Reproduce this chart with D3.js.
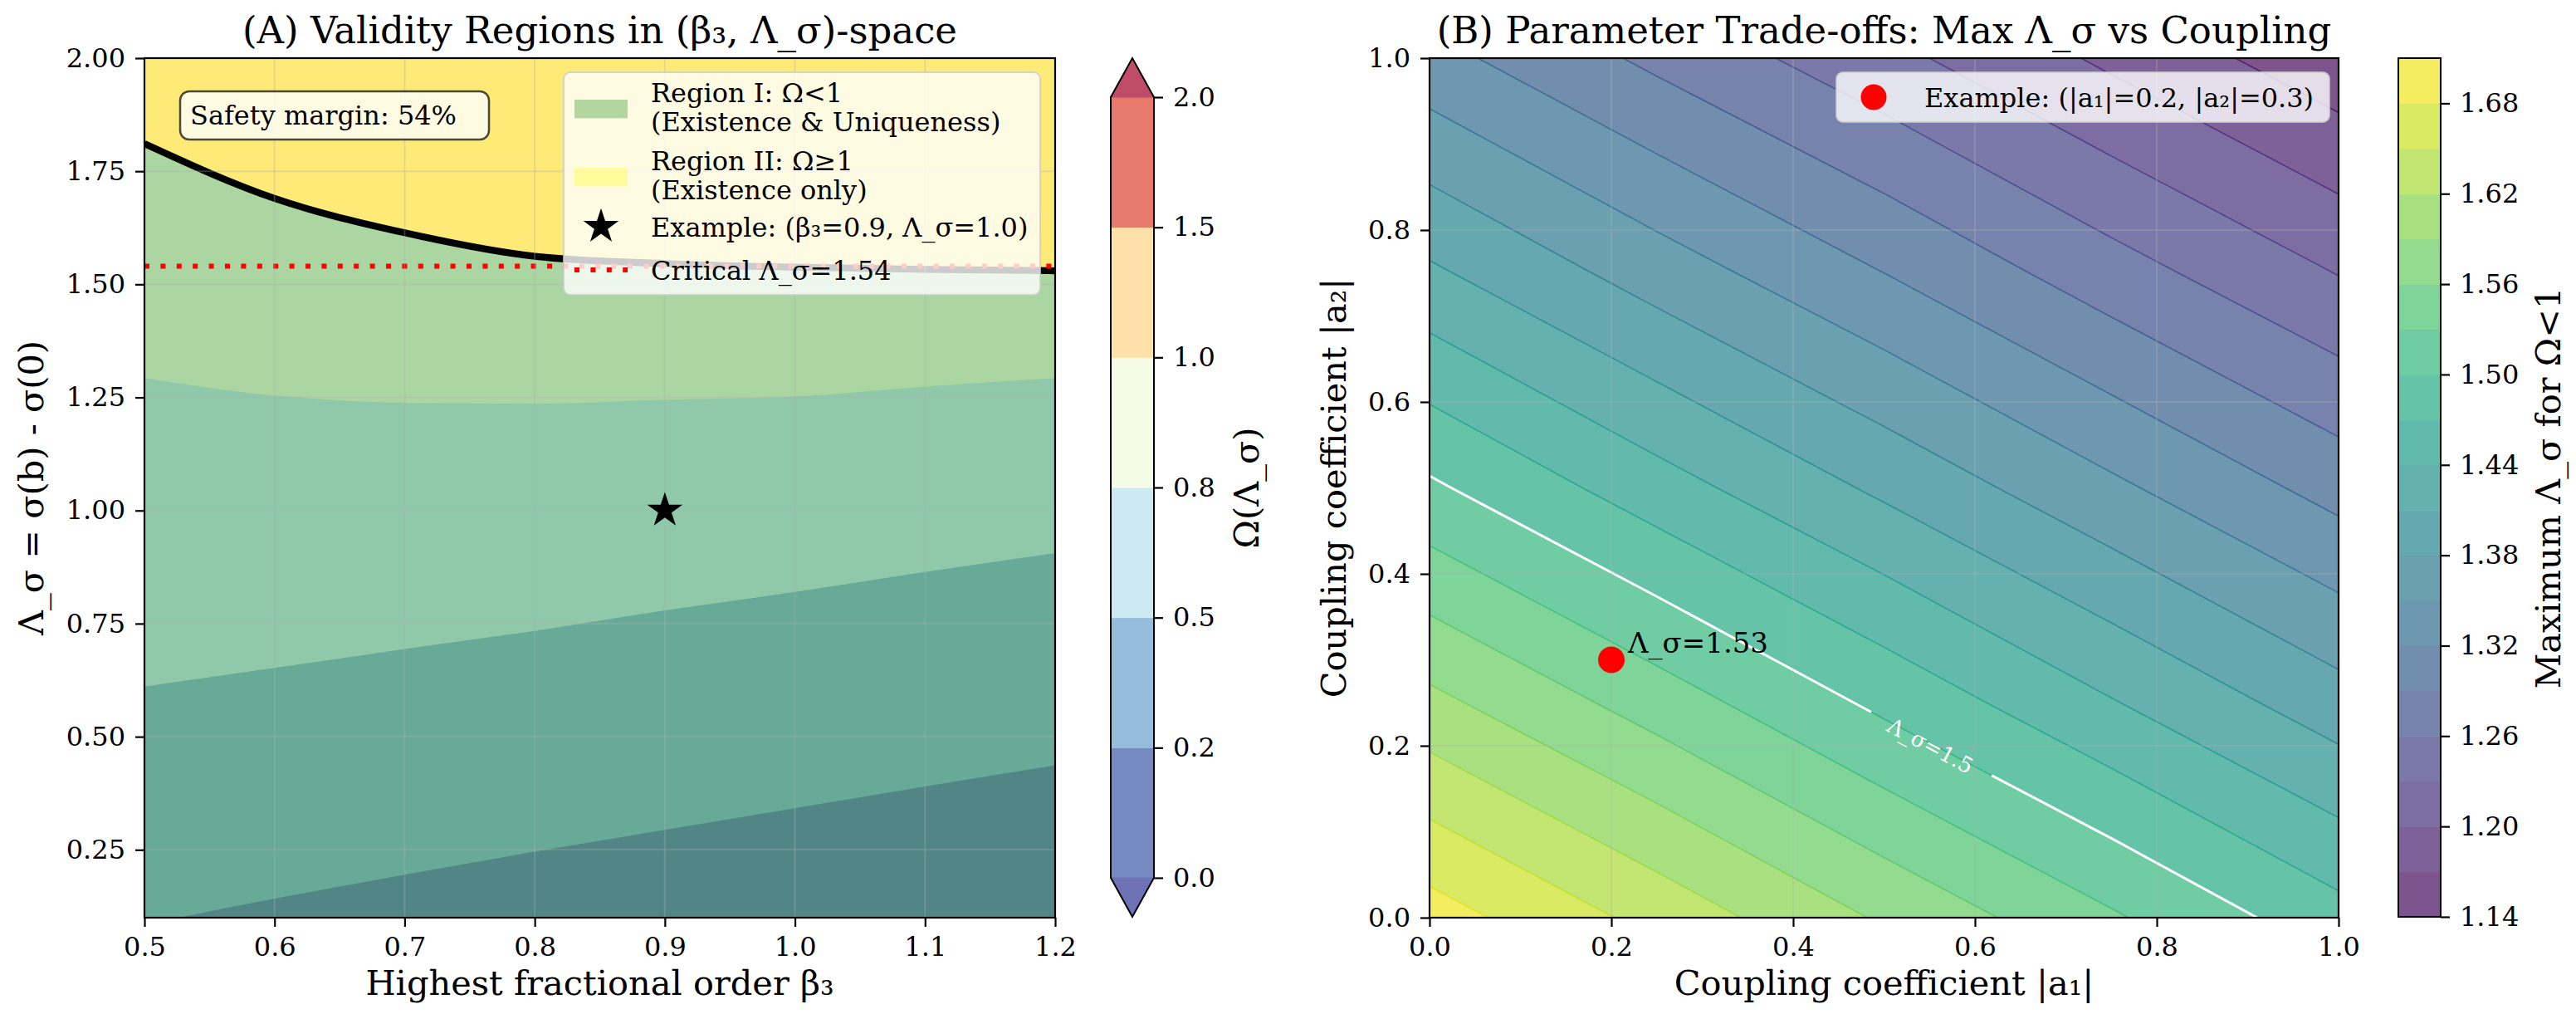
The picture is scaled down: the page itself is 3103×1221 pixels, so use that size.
<!DOCTYPE html>
<html>
<head>
<meta charset="utf-8">
<script src="https://cdn.jsdelivr.net/npm/d3@7"></script>
<style>
  body { margin: 0; background: #fff; }
  svg text { font-family: "DejaVu Serif", serif; fill: #000; }
</style>
</head>
<body>
<svg id="chart" width="3103" height="1221"></svg>
<script>
// ---------- data ----------
// panel A: Omega contour boundaries (Lambda_sigma value of each level) along beta3
const betaGrid = [0.5, 0.6, 0.7, 0.8, 0.9, 1.0, 1.1, 1.2];
const omega02Boundary = [0.085, 0.142, 0.195, 0.246, 0.294, 0.342, 0.390, 0.437];
const omega05Boundary = [0.611, 0.652, 0.694, 0.734, 0.779, 0.820, 0.864, 0.906];
const omega08Boundary = [1.293, 1.254, 1.238, 1.236, 1.245, 1.252, 1.274, 1.293];
const omega10Boundary = [1.811, 1.690, 1.614, 1.562, 1.546, 1.538, 1.533, 1.530];
const omegaLevels = [0, 0.2, 0.5, 0.8, 1.0, 1.5, 2.0];
const criticalLambda = 1.54;
const exampleA = { beta: 0.9, lambda: 1.0 };
const safetyMargin = 54;

const betaTicks = [0.5, 0.6, 0.7, 0.8, 0.9, 1.0, 1.1, 1.2];
const lambdaTicksA = [0.25, 0.5, 0.75, 1.0, 1.25, 1.5, 1.75, 2.0];

// panel B: max Lambda_sigma on a coarse (|a1|, |a2|) grid, rows = |a2|, cols = |a1|
const couplingGrid = [0, 0.25, 0.5, 0.75, 1.0];
const maxLambdaGrid = [
  [1.694, 1.640, 1.586, 1.534, 1.481],
  [1.598, 1.546, 1.493, 1.442, 1.393],
  [1.505, 1.453, 1.404, 1.356, 1.309],
  [1.415, 1.366, 1.320, 1.273, 1.229],
  [1.330, 1.283, 1.239, 1.194, 1.150]
];
const lambdaLevels = [1.14, 1.17, 1.20, 1.23, 1.26, 1.29, 1.32, 1.35, 1.38, 1.41,
                      1.44, 1.47, 1.50, 1.53, 1.56, 1.59, 1.62, 1.65, 1.68, 1.71];
const lambdaCbTicks = [1.14, 1.20, 1.26, 1.32, 1.38, 1.44, 1.50, 1.56, 1.62, 1.68];
const couplingTicks = [0, 0.2, 0.4, 0.6, 0.8, 1.0];
const highlightLevel = 1.5;
const highlightLabelAt = { a1: 0.551, a2: 0.2 };
const exampleB = { a1: 0.2, a2: 0.3, lambda: 1.53 };

// ---------- helpers ----------
const svg = d3.select("#chart");
const W = 3103, H = 1221;
const rdylbu = ["#a50026", "#d73027", "#f46d43", "#fdae61", "#fee090", "#ffffbf",
                "#e0f3f8", "#abd9e9", "#74add1", "#4575b4", "#313695"];
const rdylbuR = d3.scaleLinear().domain(d3.range(11).map(i => i / 10))
  .range(rdylbu.slice().reverse()).interpolate(d3.interpolateRgb).clamp(true);
const blend = (c, a) => d3.interpolateRgb("#ffffff", c)(a);
const f1 = d3.format(".1f"), f2 = d3.format(".2f");

function styleAxis(g) {
  g.select(".domain").remove();
  g.attr("font-family", "DejaVu Serif").attr("font-size", 32);
  g.selectAll(".tick line").attr("stroke", "#000").attr("stroke-width", 2.2);
  g.selectAll(".tick text").attr("fill", "#000");
}

const A = { left: 174, right: 1271, top: 70, bottom: 1105 };
const B = { left: 1722, right: 2817, top: 70, bottom: 1105 };
const titleSize = 45, labelSize = 41.5;

const defs = svg.append("defs");
defs.append("clipPath").attr("id", "clipA").append("rect")
  .attr("x", A.left).attr("y", A.top).attr("width", A.right - A.left).attr("height", A.bottom - A.top);
defs.append("clipPath").attr("id", "clipB").append("rect")
  .attr("x", B.left).attr("y", B.top).attr("width", B.right - B.left).attr("height", B.bottom - B.top);

// ================= PANEL A =================
const xA = d3.scaleLinear().domain([0.5, 1.2]).range([A.left, A.right]);
const yA = d3.scaleLinear().domain([0.1, 2.0]).range([A.bottom, A.top]);
const rowsA = betaGrid.map((b, i) => ({
  beta: b, b02: omega02Boundary[i], b05: omega05Boundary[i],
  b08: omega08Boundary[i], b10: omega10Boundary[i]
}));
const yTopA = yA.domain()[1], yBotA = yA.domain()[0];

// lower boundary of each filled level, stacked from the bottom up
const bandLower = [d => yBotA - 0.5, d => d.b02, d => d.b05, d => d.b08, d => d.b10];
const gA = svg.append("g").attr("clip-path", "url(#clipA)");
bandLower.forEach((lo, k) => {
  const mid = (omegaLevels[k] + omegaLevels[k + 1]) / 2;
  gA.append("path").datum(rowsA)
    .attr("fill", blend(rdylbuR(mid / 2), 0.7))
    .attr("d", d3.area().curve(d3.curveMonotoneX)
      .x(d => xA(d.beta)).y0(d => yA(lo(d))).y1(() => yA(yTopA + 0.5)));
});
// region overlays
gA.append("path").datum(rowsA).attr("fill", "green").attr("fill-opacity", 0.3)
  .attr("d", d3.area().curve(d3.curveMonotoneX)
    .x(d => xA(d.beta)).y0(() => yA(yBotA - 0.5)).y1(d => yA(d.b10)));
gA.append("path").datum(rowsA).attr("fill", "yellow").attr("fill-opacity", 0.3)
  .attr("d", d3.area().curve(d3.curveMonotoneX)
    .x(d => xA(d.beta)).y0(d => yA(d.b10)).y1(() => yA(yTopA + 0.5)));

// grid
const gridA = svg.append("g").attr("stroke", "#b0b0b0").attr("stroke-opacity", 0.3).attr("stroke-width", 2);
gridA.selectAll("line.v").data(betaTicks).join("line")
  .attr("x1", d => xA(d)).attr("x2", d => xA(d)).attr("y1", A.top).attr("y2", A.bottom);
gridA.selectAll("line.h").data(lambdaTicksA).join("line").attr("class", "h")
  .attr("y1", d => yA(d)).attr("y2", d => yA(d)).attr("x1", A.left).attr("x2", A.right);

// Omega = 1 contour
gA.append("path").datum(rowsA).attr("fill", "none").attr("stroke", "#000").attr("stroke-width", 8.3)
  .attr("d", d3.line().curve(d3.curveMonotoneX).x(d => xA(d.beta)).y(d => yA(d.b10)));
// critical line
gA.append("line").attr("x1", A.left).attr("x2", A.right)
  .attr("y1", yA(criticalLambda)).attr("y2", yA(criticalLambda))
  .attr("stroke", "red").attr("stroke-width", 6).attr("stroke-dasharray", "6,13.4");
// example star
const star = d3.symbol(d3.symbolStar).size(560);
svg.append("path").attr("d", star()).attr("fill", "#000")
  .attr("transform", `translate(${xA(exampleA.beta)},${yA(exampleA.lambda)})`);

// frame + axes
svg.append("rect").attr("x", A.left).attr("y", A.top).attr("width", A.right - A.left)
  .attr("height", A.bottom - A.top).attr("fill", "none").attr("stroke", "#000").attr("stroke-width", 2.2);
svg.append("g").attr("transform", `translate(0,${A.bottom})`)
  .call(d3.axisBottom(xA).tickValues(betaTicks).tickFormat(f1).tickSize(11).tickPadding(12)).call(styleAxis);
svg.append("g").attr("transform", `translate(${A.left},0)`)
  .call(d3.axisLeft(yA).tickValues(lambdaTicksA).tickFormat(f2).tickSize(11).tickPadding(12)).call(styleAxis);

svg.append("text").attr("x", (A.left + A.right) / 2).attr("y", 52).attr("text-anchor", "middle")
  .attr("font-size", titleSize).text("(A) Validity Regions in (β₃, Λ_σ)-space");
svg.append("text").attr("x", (A.left + A.right) / 2).attr("y", 1198).attr("text-anchor", "middle")
  .attr("font-size", labelSize).text("Highest fractional order β₃");
svg.append("text").attr("transform", `translate(52,${(A.top + A.bottom) / 2}) rotate(-90)`)
  .attr("text-anchor", "middle").attr("font-size", labelSize).text("Λ_σ = σ(b) - σ(0)");

// safety margin box
const sm = svg.append("g");
sm.append("rect").attr("x", 217).attr("y", 110).attr("width", 372).attr("height", 58).attr("rx", 11)
  .attr("fill", "#fff").attr("fill-opacity", 0.8).attr("stroke", "#000").attr("stroke-opacity", 0.7).attr("stroke-width", 2.5);
sm.append("text").attr("x", 229).attr("y", 150).attr("font-size", 32).text(`Safety margin: ${safetyMargin}%`);

// legend A
const lgA = svg.append("g");
lgA.append("rect").attr("x", 679).attr("y", 87).attr("width", 574).attr("height", 268).attr("rx", 8)
  .attr("fill", "#fff").attr("fill-opacity", 0.8).attr("stroke", "#cccccc").attr("stroke-opacity", 0.8).attr("stroke-width", 2);
lgA.append("rect").attr("x", 692).attr("y", 120).attr("width", 64).attr("height", 22.4)
  .attr("fill", "green").attr("fill-opacity", 0.3);
lgA.append("rect").attr("x", 692).attr("y", 202).attr("width", 64).attr("height", 22.4)
  .attr("fill", "yellow").attr("fill-opacity", 0.3);
lgA.append("path").attr("d", star()).attr("fill", "#000").attr("transform", "translate(724,273)");
lgA.append("line").attr("x1", 692).attr("x2", 756).attr("y1", 325).attr("y2", 325)
  .attr("stroke", "red").attr("stroke-width", 6).attr("stroke-dasharray", "6,13.4");
const legendLines = [
  ["Region I: Ω<1", 123], ["(Existence & Uniqueness)", 158],
  ["Region II: Ω≥1", 204.5], ["(Existence only)", 239.5],
  [`Example: (β₃=${f1(exampleA.beta)}, Λ_σ=${f1(exampleA.lambda)})`, 284.5],
  [`Critical Λ_σ=${f2(criticalLambda)}`, 336.5]
];
lgA.selectAll("text").data(legendLines).join("text")
  .attr("x", 784).attr("y", d => d[1]).attr("font-size", 32).text(d => d[0]);

// colorbar A
const cbA = { left: 1338, right: 1390, top: 117, bottom: 1057, tipTop: 70, tipBottom: 1104 };
const cbAScale = d3.scaleLinear().domain([0, omegaLevels.length - 1]).range([cbA.bottom, cbA.top]);
const cbAg = svg.append("g");
cbAg.selectAll("rect").data(d3.range(omegaLevels.length - 1)).join("rect")
  .attr("x", cbA.left).attr("width", cbA.right - cbA.left)
  .attr("y", i => cbAScale(i + 1)).attr("height", i => cbAScale(i) - cbAScale(i + 1) + 0.5)
  .attr("fill", i => blend(rdylbuR((omegaLevels[i] + omegaLevels[i + 1]) / 2 / 2), 0.7));
const cmid = (cbA.left + cbA.right) / 2;
cbAg.append("path").attr("fill", blend(rdylbuR(1), 0.7))
  .attr("d", `M${cbA.left},${cbA.top + 0.5}L${cmid},${cbA.tipTop}L${cbA.right},${cbA.top + 0.5}Z`);
cbAg.append("path").attr("fill", blend(rdylbuR(0), 0.7))
  .attr("d", `M${cbA.left},${cbA.bottom - 0.5}L${cmid},${cbA.tipBottom}L${cbA.right},${cbA.bottom - 0.5}Z`);
cbAg.append("path").attr("fill", "none").attr("stroke", "#000").attr("stroke-width", 2)
  .attr("d", `M${cbA.left},${cbA.top}L${cmid},${cbA.tipTop}L${cbA.right},${cbA.top}L${cbA.right},${cbA.bottom}` +
    `L${cmid},${cbA.tipBottom}L${cbA.left},${cbA.bottom}Z`);
svg.append("g").attr("transform", `translate(${cbA.right},0)`)
  .call(d3.axisRight(cbAScale).tickValues(d3.range(omegaLevels.length))
    .tickFormat(i => f1(omegaLevels[i])).tickSize(11).tickPadding(12)).call(styleAxis);
svg.append("text").attr("transform", `translate(1516,${(A.top + A.bottom) / 2}) rotate(-90)`)
  .attr("text-anchor", "middle").attr("font-size", labelSize).text("Ω(Λ_σ)");

// ================= PANEL B =================
const xB = d3.scaleLinear().domain([0, 1]).range([B.left, B.right]);
const yB = d3.scaleLinear().domain([0, 1]).range([B.bottom, B.top]);
const lamMin = lambdaLevels[0], lamMax = lambdaLevels[lambdaLevels.length - 1];
const vir = v => d3.interpolateViridis((v - lamMin) / (lamMax - lamMin));

const n = couplingGrid.length;
const step = couplingGrid[1] - couplingGrid[0];
const flat = maxLambdaGrid.flat();
const gridProj = d3.geoTransform({
  point(px, py) {
    this.stream.point(xB(couplingGrid[0] + (px - 0.5) * step), yB(couplingGrid[0] + (py - 0.5) * step));
  }
});
const gpath = d3.geoPath(gridProj);
const bands = d3.contours().size([n, n]).thresholds(lambdaLevels.slice(0, -1))(flat);

const gB = svg.append("g").attr("clip-path", "url(#clipB)");
gB.selectAll("path.band").data(bands).join("path").attr("class", "band")
  .attr("fill-rule", "evenodd")
  .attr("fill", d => {
    const i = lambdaLevels.indexOf(d.value);
    return blend(vir((lambdaLevels[i] + lambdaLevels[i + 1]) / 2), 0.7);
  })
  .attr("d", gpath);

// grid B
const gridB = svg.append("g").attr("stroke", "#b0b0b0").attr("stroke-opacity", 0.3).attr("stroke-width", 2);
gridB.selectAll("line.v").data(couplingTicks).join("line")
  .attr("x1", d => xB(d)).attr("x2", d => xB(d)).attr("y1", B.top).attr("y2", B.bottom);
gridB.selectAll("line.h").data(couplingTicks).join("line").attr("class", "h")
  .attr("y1", d => yB(d)).attr("y2", d => yB(d)).attr("x1", B.left).attr("x2", B.right);

// contour lines
gB.selectAll("path.iso").data(bands.filter(d => d.value > lamMin)).join("path").attr("class", "iso")
  .attr("fill", "none").attr("stroke", d => vir(d.value)).attr("stroke-width", 1.6).attr("stroke-opacity", 0.8)
  .attr("d", gpath);

// highlighted level with label gap
const hlPos = [xB(highlightLabelAt.a1), yB(highlightLabelAt.a2)];
const hlAngle = 28;
const mask = defs.append("mask").attr("id", "gapMask");
mask.append("rect").attr("width", W).attr("height", H).attr("fill", "#fff");
mask.append("rect").attr("x", -82).attr("y", -22).attr("width", 164).attr("height", 44).attr("fill", "#000")
  .attr("transform", `translate(${hlPos[0]},${hlPos[1]}) rotate(${hlAngle})`);
const hl = d3.contours().size([n, n]).thresholds([highlightLevel])(flat);
gB.append("g").attr("mask", "url(#gapMask)").selectAll("path").data(hl).join("path")
  .attr("fill", "none").attr("stroke", "#fff").attr("stroke-width", 3).attr("d", gpath);
svg.append("text").attr("transform", `translate(${hlPos[0]},${hlPos[1]}) rotate(${hlAngle})`)
  .attr("text-anchor", "middle").attr("dy", "0.35em").attr("font-size", 26).style("fill", "#fff")
  .text(`Λ_σ=${f1(highlightLevel)}`);

// example point
svg.append("circle").attr("cx", xB(exampleB.a1)).attr("cy", yB(exampleB.a2)).attr("r", 16).attr("fill", "red");
svg.append("text").attr("x", xB(exampleB.a1) + 20).attr("y", yB(exampleB.a2) - 9).attr("font-size", 34)
  .text(`Λ_σ=${f2(exampleB.lambda)}`);

// frame + axes B
svg.append("rect").attr("x", B.left).attr("y", B.top).attr("width", B.right - B.left)
  .attr("height", B.bottom - B.top).attr("fill", "none").attr("stroke", "#000").attr("stroke-width", 2.2);
svg.append("g").attr("transform", `translate(0,${B.bottom})`)
  .call(d3.axisBottom(xB).tickValues(couplingTicks).tickFormat(f1).tickSize(11).tickPadding(12)).call(styleAxis);
svg.append("g").attr("transform", `translate(${B.left},0)`)
  .call(d3.axisLeft(yB).tickValues(couplingTicks).tickFormat(f1).tickSize(11).tickPadding(12)).call(styleAxis);

svg.append("text").attr("x", (B.left + B.right) / 2).attr("y", 52).attr("text-anchor", "middle")
  .attr("font-size", titleSize).text("(B) Parameter Trade-offs: Max Λ_σ vs Coupling");
svg.append("text").attr("x", (B.left + B.right) / 2).attr("y", 1198).attr("text-anchor", "middle")
  .attr("font-size", labelSize).text("Coupling coefficient |a₁|");
svg.append("text").attr("transform", `translate(1621,${(B.top + B.bottom) / 2}) rotate(-90)`)
  .attr("text-anchor", "middle").attr("font-size", labelSize).text("Coupling coefficient |a₂|");

// legend B
const lgB = svg.append("g");
lgB.append("rect").attr("x", 2212).attr("y", 87).attr("width", 594).attr("height", 60).attr("rx", 8)
  .attr("fill", "#fff").attr("fill-opacity", 0.8).attr("stroke", "#cccccc").attr("stroke-opacity", 0.8).attr("stroke-width", 2);
lgB.append("circle").attr("cx", 2257).attr("cy", 117).attr("r", 15.5).attr("fill", "red");
lgB.append("text").attr("x", 2318).attr("y", 128.5).attr("font-size", 32)
  .text(`Example: (|a₁|=${f1(exampleB.a1)}, |a₂|=${f1(exampleB.a2)})`);

// colorbar B
const cbB = { left: 2889, right: 2940, top: 70, bottom: 1104 };
const cbBScale = d3.scaleLinear().domain([lamMin, lamMax]).range([cbB.bottom, cbB.top]);
svg.append("g").selectAll("rect").data(lambdaLevels.slice(0, -1)).join("rect")
  .attr("x", cbB.left).attr("width", cbB.right - cbB.left)
  .attr("y", (d, i) => cbBScale(lambdaLevels[i + 1])).attr("height", (d, i) => cbBScale(d) - cbBScale(lambdaLevels[i + 1]) + 0.5)
  .attr("fill", (d, i) => blend(vir((d + lambdaLevels[i + 1]) / 2), 0.7));
svg.append("rect").attr("x", cbB.left).attr("y", cbB.top).attr("width", cbB.right - cbB.left)
  .attr("height", cbB.bottom - cbB.top).attr("fill", "none").attr("stroke", "#000").attr("stroke-width", 2);
svg.append("g").attr("transform", `translate(${cbB.right},0)`)
  .call(d3.axisRight(cbBScale).tickValues(lambdaCbTicks).tickFormat(f2).tickSize(11).tickPadding(12)).call(styleAxis);
svg.append("text").attr("transform", `translate(3084,${(B.top + B.bottom) / 2}) rotate(-90)`)
  .attr("text-anchor", "middle").attr("font-size", labelSize).text("Maximum Λ_σ for Ω<1");
</script>
</body>
</html>
